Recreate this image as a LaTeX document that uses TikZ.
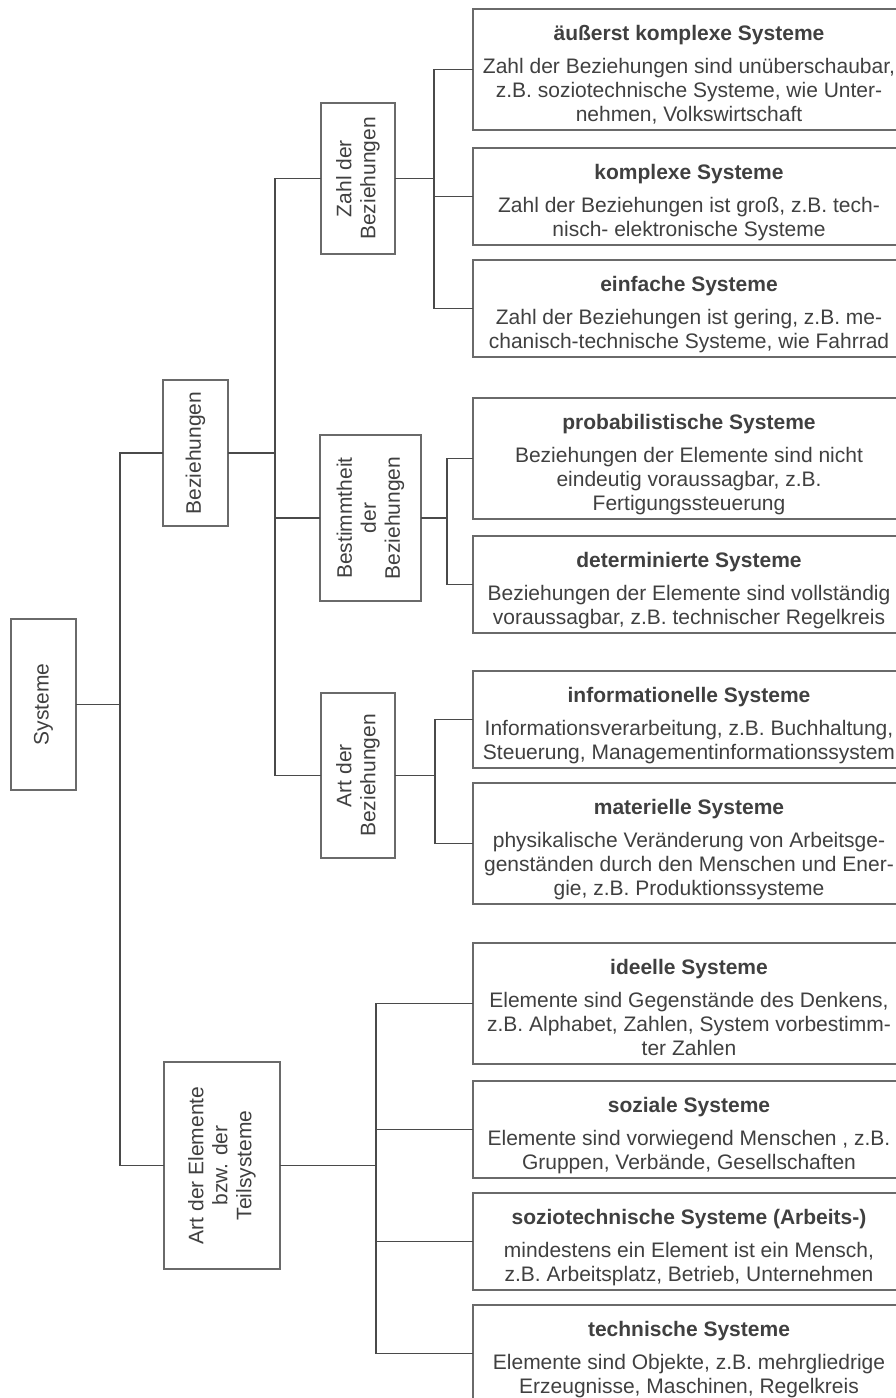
\documentclass[tikz,border=0pt]{standalone}
\usepackage{fontspec}
\setmainfont{Liberation Sans}
\usetikzlibrary{calc}
\definecolor{txt}{HTML}{404040}
\definecolor{boxc}{HTML}{6A6A6A}
\definecolor{linec}{HTML}{4A4A4A}
\newcommand{\RBox}[5]{%
  \node[catbox, minimum width=432pt, minimum height=#3pt] (#1) at (473,#2) {};
  \node[desc] (#1t) at ($(#1.north)+(0,31)$) {\begin{tabular}[t]{@{}c@{}}\textbf{#4}\\[9pt]#5\end{tabular}};
}
\begin{document}
\begin{tikzpicture}[x=1pt,y=-1pt,
  every node/.style={text=txt, font=\fontsize{21}{24}\selectfont},
  catbox/.style={draw=boxc, line width=1.1pt, inner sep=0pt, outer sep=0pt, anchor=north west},
  desc/.style={anchor=base, inner sep=0pt},
  vlabel/.style={rotate=90, align=center, inner sep=0pt},
  conn/.style={draw=linec, line width=1.1pt},
  ]
\useasboundingbox (0,0) rectangle (896,1398);
\clip (0,0) rectangle (896,1398);
\fill[white] (0,0) rectangle (896,1398);

% left category boxes
\node[catbox, minimum width=65pt, minimum height=171pt] (sys) at (11,619) {};
\node[vlabel] (syst) at (sys.center) {Systeme};
\node[catbox, minimum width=65pt, minimum height=146pt] (bez) at (163,380) {};
\node[vlabel] (bezt) at (bez.center) {Beziehungen};
\node[catbox, minimum width=74pt, minimum height=151pt] (zahl) at (321,103) {};
\node[vlabel] (zahlt) at (zahl.center) {Zahl der\\Beziehungen};
\node[catbox, minimum width=101pt, minimum height=166pt] (best) at (320,435) {};
\node[vlabel] (bestt) at (best.center) {Bestimmtheit\\der\\Beziehungen};
\node[catbox, minimum width=74pt, minimum height=165pt] (artb) at (321,693) {};
\node[vlabel] (artbt) at (artb.center) {Art der\\Beziehungen};
\node[catbox, minimum width=116pt, minimum height=207pt] (artel) at (164,1062) {};
\node[vlabel] (artelt) at (artel.center) {Art der Elemente\\bzw. der\\Teilsysteme};

% right description boxes
\RBox{aeu}{9}{121}{äußerst komplexe Systeme}{Zahl der Beziehungen sind unüberschaubar,\\z.B. soziotechnische Systeme, wie Unter-\\nehmen, Volkswirtschaft}
\RBox{kompl}{148}{97}{komplexe Systeme}{Zahl der Beziehungen ist groß, z.B. tech-\\nisch- elektronische Systeme}
\RBox{einf}{260}{97}{einfache Systeme}{Zahl der Beziehungen ist gering, z.B. me-\\chanisch-technische Systeme, wie Fahrrad}
\RBox{prob}{398}{121}{probabilistische Systeme}{Beziehungen der Elemente sind nicht\\eindeutig voraussagbar, z.B.\\Fertigungssteuerung}
\RBox{det}{536}{97}{determinierte Systeme}{Beziehungen der Elemente sind vollständig\\voraussagbar, z.B. technischer Regelkreis}
\RBox{info}{671}{97}{informationelle Systeme}{Informationsverarbeitung, z.B. Buchhaltung,\\Steuerung, Managementinformationssystem}
\RBox{mat}{783}{121}{materielle Systeme}{physikalische Veränderung von Arbeitsge-\\genständen durch den Menschen und Ener-\\gie, z.B. Produktionssysteme}
\RBox{ideell}{943}{121}{ideelle Systeme}{Elemente sind Gegenstände des Denkens,\\z.B. Alphabet, Zahlen, System vorbestimm-\\ter Zahlen}
\RBox{sozial}{1081}{97}{soziale Systeme}{Elemente sind vorwiegend Menschen , z.B.\\Gruppen, Verbände, Gesellschaften}
\RBox{soziot}{1193}{97}{soziotechnische Systeme (Arbeits-)}{mindestens ein Element ist ein Mensch,\\z.B. Arbeitsplatz, Betrieb, Unternehmen}
\RBox{tech}{1305}{97}{technische Systeme}{Elemente sind Objekte, z.B. mehrgliedrige\\Erzeugnisse, Maschinen, Regelkreis}

% bus coordinates
\coordinate (b0) at (120,0);
\coordinate (b1) at (275,0);
\coordinate (b2) at (434,0);
\coordinate (b3) at (447,0);
\coordinate (b4) at (435,0);
\coordinate (b5) at (376,0);

% connectors
\draw[conn] (sys.east) -- (sys.east -| b0);
\draw[conn] (bez.west) -| (b0 |- artel.west) -- (artel.west);

\draw[conn] (bez.east) -- (bez.east -| b1);
\draw[conn] (zahl.west) -| (b1 |- artb.west) -- (artb.west);
\draw[conn] (best.west) -- (best.west -| b1);

\draw[conn] (zahl.east) -- (zahl.east -| b2);
\draw[conn] (aeu.west) -| (b2 |- einf.west) -- (einf.west);
\draw[conn] (kompl.west) -- (kompl.west -| b2);

\draw[conn] (best.east) -- (best.east -| b3);
\draw[conn] (prob.west) -| (b3 |- det.west) -- (det.west);

\draw[conn] (artb.east) -- (artb.east -| b4);
\draw[conn] (info.west) -| (b4 |- mat.west) -- (mat.west);

\draw[conn] (artel.east) -- (artel.east -| b5);
\draw[conn] (ideell.west) -| (b5 |- tech.west) -- (tech.west);
\draw[conn] (sozial.west) -- (sozial.west -| b5);
\draw[conn] (soziot.west) -- (soziot.west -| b5);
\end{tikzpicture}
\end{document}
